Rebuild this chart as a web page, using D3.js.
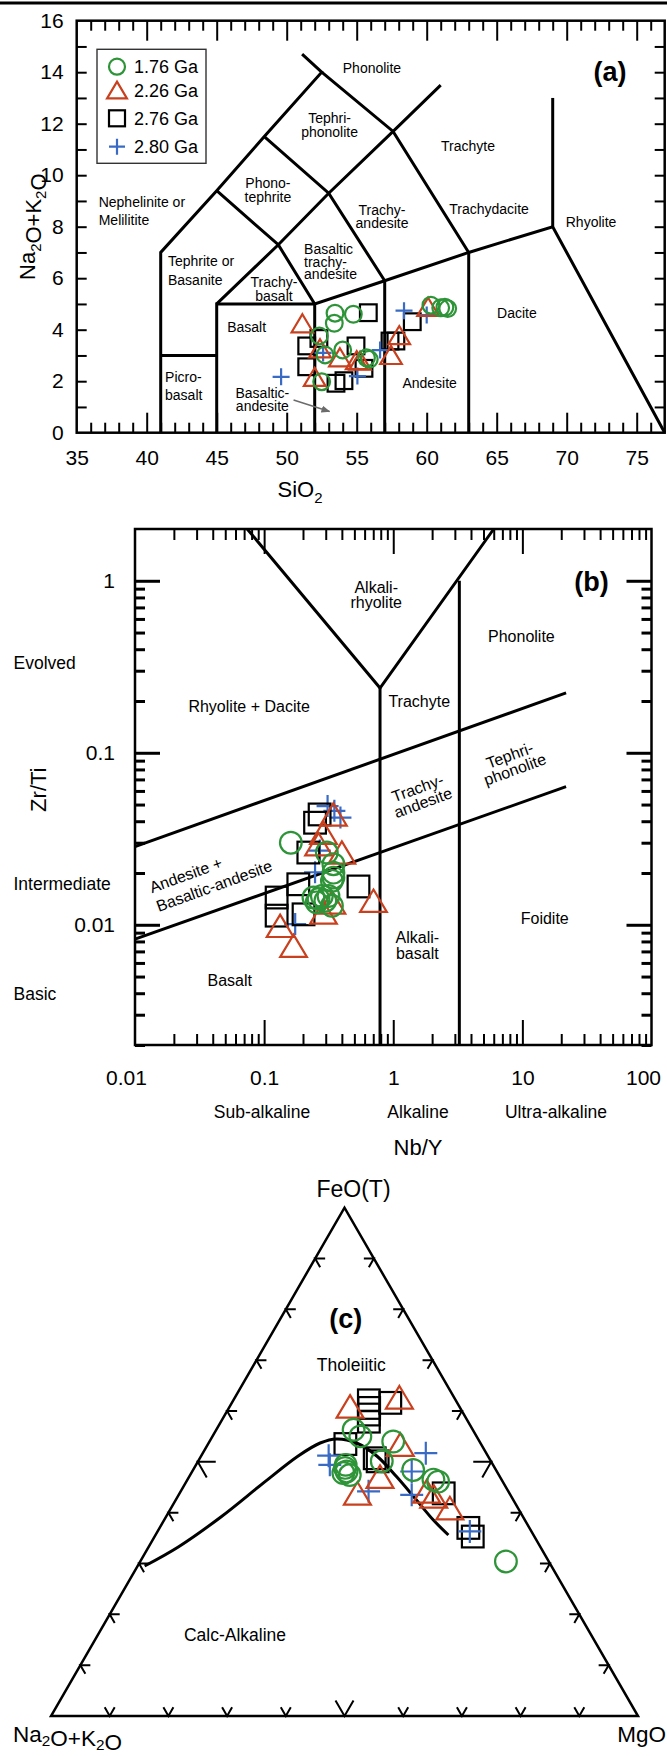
<!DOCTYPE html>
<html>
<head>
<meta charset="utf-8">
<title>TAS, Zr/Ti-Nb/Y and AFM diagrams</title>
<script src="https://cdn.jsdelivr.net/npm/d3@7"></script>
<style>
  body { margin: 0; background: #fff; }
  svg { display: block; font-family: "Liberation Sans", Arial, Helvetica, sans-serif; }
  .field { fill: none; stroke: #000; stroke-width: 3; stroke-linejoin: miter; }
  .frame { fill: none; stroke: #000; stroke-width: 2.5; }
  .mk { fill: none; stroke-width: 2.2; }
</style>
</head>
<body>
<div id="chart"></div>
<script>
/* ---- data ---- */

// (a) TAS: SiO2 vs Na2O+K2O (wt%)
var tasSiO2_176 = [53.45, 54.76, 53.4, 52.33, 52.74, 54.0, 55.7, 55.9, 52.5, 60.3, 61.0, 61.3, 61.5];
var tasAlk_176  = [4.64, 4.6, 4.25, 3.76, 3.02, 3.21, 2.91, 2.85, 1.98, 4.95, 4.85, 4.87, 4.82];
var tasSiO2_226 = [51.12, 52.38, 53.8, 55.0, 55.24, 52.0, 58.04, 57.45, 60.1];
var tasAlk_226  = [4.25, 3.28, 2.93, 2.82, 2.8, 2.17, 3.79, 3.02, 4.89];
var tasSiO2_276 = [55.83, 51.43, 51.43, 54.95, 55.52, 53.52, 54.09, 57.38, 57.8, 58.97, 52.3];
var tasAlk_276  = [4.66, 3.37, 2.56, 3.37, 2.5, 1.92, 2.02, 3.56, 3.56, 4.31, 3.66];
var tasSiO2_280 = [49.6, 52.6, 55.05, 56.67, 58.38, 60.0];
var tasAlk_280  = [2.17, 3.1, 2.2, 3.21, 4.74, 4.57];

// (b) Nb/Y vs Zr/Ti
var nbY_176  = [0.161, 0.306, 0.344, 0.344, 0.344, 0.335, 0.241, 0.264, 0.280, 0.298, 0.335, 0.315, 0.255];
var zrTi_176 = [0.0300, 0.0263, 0.0225, 0.0201, 0.0188, 0.0180, 0.0144, 0.0141, 0.0147, 0.0138, 0.0129, 0.0147, 0.0135];
var nbY_226  = [0.344, 0.288, 0.264, 0.400, 0.703, 0.288, 0.335, 0.133, 0.169];
var zrTi_226 = [0.0438, 0.0343, 0.0294, 0.0263, 0.0138, 0.0118, 0.0135, 0.00986, 0.00755];
var nbY_276  = [0.269, 0.248, 0.220, 0.184, 0.125, 0.125, 0.202, 0.538];
var zrTi_276 = [0.0438, 0.0392, 0.0263, 0.0172, 0.0144, 0.0113, 0.0115, 0.0167];
var nbY_280  = [0.31, 0.39, 0.35, 0.248, 0.174, 0.27];
var zrTi_280 = [0.049, 0.042, 0.046, 0.0202, 0.0101, 0.027];

// (c) AFM, FeO(T) and MgO in %, Na2O+K2O is the rest
var feo_176 = [56.3, 55.0, 54.0, 50.1, 48.8, 48.1, 47.4, 47.8, 49.4, 48.4, 46.5, 46.1, 30.4];
var mgo_176 = [23.4, 25.2, 31.3, 31.3, 25.7, 26.3, 27.2, 25.9, 25.5, 37.5, 41.9, 42.9, 62.3];
var feo_226 = [60.9, 62.7, 53.4, 47.1, 43.8, 44.2, 43.2, 40.9];
var mgo_226 = [20.5, 28.0, 32.8, 32.5, 30.3, 41.9, 43.6, 47.5];
var feo_276 = [62.1, 60.6, 59.3, 57.9, 61.6, 53.5, 50.7, 50.1, 43.8, 37.0, 35.3];
var mgo_276 = [23.1, 23.9, 24.5, 25.2, 27.0, 23.4, 29.8, 30.6, 45.0, 52.6, 54.2];
var feo_280 = [51.2, 49.4, 51.7, 48.1, 44.2, 43.5, 36.3];
var mgo_280 = [21.7, 22.8, 38.0, 37.4, 32.0, 39.7, 53.2];

// tholeiitic / calc-alkaline boundary (Irvine & Baragar)
var curveF = [29.5, 33.3, 39.2, 45.9, 51.1, 53.7, 54.5, 53.7, 51.1, 47.1, 42.5, 38.6, 35.6];
var curveM = [1.2, 5.1, 9.4, 13.3, 16.5, 19.0, 21.4, 25.2, 30.0, 35.3, 41.0, 45.8, 49.9];

var seriesNames = ['1.76 Ga', '2.26 Ga', '2.76 Ga', '2.80 Ga'];
var seriesShapes = ['circle', 'triangle', 'square', 'plus'];
var seriesColors = ['#2e9438', '#c8401e', '#000000', '#3a6bc4'];

// TAS field boundaries (SiO2, alkalis)
var tasFields = [
    [[41, 0], [41, 7], [45, 9.4], [48.4, 11.5], [52.5, 14], [51.1, 14.7]],
    [[45, 0], [45, 5], [52, 5], [57, 5.9], [63, 7], [69, 8], [77, 0]],
    [[41, 3], [45, 3]],
    [[52, 0], [52, 5]],
    [[57, 0], [57, 5.9]],
    [[63, 0], [63, 7]],
    [[69, 8], [69, 13]],
    [[45, 5], [49.4, 7.3], [53, 9.3], [57.6, 11.7], [61, 13.5]],
    [[45, 9.4], [49.4, 7.3], [52, 5]],
    [[48.4, 11.5], [53, 9.3], [57, 5.9]],
    [[52.5, 14], [57.6, 11.7], [63, 7]]
];

// Zr/Ti - Nb/Y field boundaries
var wfFields = [
    [[0.074, 2], [0.79, 0.238], [6.0, 2]],
    [[0.79, 0.238], [0.79, 0.002]],
    [[3.25, 1.0], [3.25, 0.002]],
    [[0.01, 0.0285], [21.8, 0.223]],
    [[0.01, 0.00825], [21.8, 0.0635]]
];

var W = 667, H = 1756;

var svg = d3.select('#chart').append('svg')
    .attr('width', W)
    .attr('height', H);

svg.append('rect').attr('width', W).attr('height', H).attr('fill', '#fff');

svg.append('line')
    .attr('x1', 0).attr('x2', W)
    .attr('y1', 3).attr('y2', 3)
    .attr('stroke', '#000').attr('stroke-width', 3);

// draws one marker centred on x,y
var drawMarker = function (g, shape, x, y, s, color) {
    var m = g.append('g')
        .attr('transform', 'translate(' + x + ',' + y + ')')
        .attr('class', 'mk')
        .attr('stroke', color);
    if (shape == 'circle') {
        m.append('circle').attr('r', s / 2);
    } else if (shape == 'square') {
        m.append('rect').attr('x', -s / 2).attr('y', -s / 2).attr('width', s).attr('height', s);
    } else if (shape == 'triangle') {
        var w = s * 1.24, h = s * 1.04;
        m.append('path').attr('d', 'M0,' + (-h / 2) + 'L' + (w / 2) + ',' + (h / 2) + 'L' + (-w / 2) + ',' + (h / 2) + 'Z');
    } else {
        m.append('path').attr('d', 'M' + (-s / 2) + ',0H' + (s / 2) + 'M0,' + (-s / 2) + 'V' + (s / 2));
    }
}

var drawSeries = function (g, xs, ys, px, py, idx, s) {
    xs.forEach(function (v, i) {
        drawMarker(g, seriesShapes[idx], px(v, ys[i]), py(v, ys[i]), s, seriesColors[idx]);
    });
}

// ticks only, pointing inward
var ticks = function (g, axis, transform, width) {
    var a = g.append('g').attr('transform', transform).call(axis);
    a.select('.domain').remove();
    a.selectAll('text').remove();
    a.selectAll('line').attr('stroke', '#000').attr('stroke-width', width || 2);
}

var labels = function (g, axis, transform, size) {
    var a = g.append('g').attr('transform', transform).call(axis);
    a.select('.domain').remove();
    a.attr('font-family', null).attr('font-size', size);
    a.selectAll('text').attr('fill', '#000');
    return a;
}

// multi-line text label, one text per line
var note = function (g, lines, x, y, size, lh, anchor, rot) {
    var t = g.append('g')
        .attr('transform', 'translate(' + x + ',' + y + ')' + (rot ? ' rotate(' + rot + ')' : ''))
        .attr('font-size', size)
        .attr('text-anchor', anchor || 'middle');
    lines.forEach(function (l, i) {
        t.append('text').attr('x', 0).attr('y', i * lh).text(l);
    });
    return t;
}

var subText = function (t, parts, size, shift) {
    parts.forEach(function (p) {
        if (p.sub) {
            t.append('tspan').attr('font-size', size * 0.68).attr('dy', size * shift).text(p.sub);
            t.append('tspan').attr('dy', -size * shift).text('');
        } else {
            t.append('tspan').text(p.t);
        }
    });
}

/* ================= (a) TAS ================= */
var xA = d3.scaleLinear().domain([35, 77]).range([76.7, 664.7]);
var yA = d3.scaleLinear().domain([0, 16]).range([432.7, 20.7]);
var gA = svg.append('g');

var lineA = d3.line().x(function (d) { return xA(d[0]); }).y(function (d) { return yA(d[1]); });
tasFields.forEach(function (p) {
    gA.append('path').attr('d', lineA(p)).attr('class', 'field');
});

gA.append('rect')
    .attr('x', xA(35)).attr('y', yA(16))
    .attr('width', xA(77) - xA(35)).attr('height', yA(0) - yA(16))
    .attr('class', 'frame');

var minorA = d3.range(36, 77).filter(function (v) { return v % 5 != 0; });
var majorA = d3.range(40, 76, 5);
ticks(gA, d3.axisBottom(xA).tickValues(minorA).tickSize(-10), 'translate(0,' + yA(0) + ')');
ticks(gA, d3.axisBottom(xA).tickValues(majorA).tickSize(-20), 'translate(0,' + yA(0) + ')');
ticks(gA, d3.axisTop(xA).tickValues(minorA).tickSize(-10), 'translate(0,' + yA(16) + ')');
ticks(gA, d3.axisTop(xA).tickValues(majorA).tickSize(-20), 'translate(0,' + yA(16) + ')');
ticks(gA, d3.axisLeft(yA).tickValues(d3.range(1, 16)).tickSize(-10), 'translate(' + xA(35) + ',0)');
ticks(gA, d3.axisRight(yA).tickValues(d3.range(1, 16)).tickSize(-10), 'translate(' + xA(77) + ',0)');

labels(gA, d3.axisBottom(xA).tickValues(d3.range(35, 80, 5)).tickSize(0).tickPadding(17), 'translate(0,' + yA(0) + ')', 21);
labels(gA, d3.axisLeft(yA).tickValues(d3.range(0, 17, 2)).tickSize(0).tickPadding(13), 'translate(' + xA(35) + ',0)', 21);

// field names
var tasNames = [
    { t: ['Phonolite'], x: 56.09, y: 14.15 },
    { t: ['Tephri-', 'phonolite'], x: 53.06, y: 11.95, lh: 13.4 },
    { t: ['Trachyte'], x: 62.95, y: 11.15 },
    { t: ['Phono-', 'tephrite'], x: 48.66, y: 9.43, lh: 13.4 },
    { t: ['Nephelinite or', 'Melilitite'], x: 36.57, y: 8.61, lh: 18.3, a: 'start' },
    { t: ['Trachy-', 'andesite'], x: 56.81, y: 8.39, lh: 13.3 },
    { t: ['Trachydacite'], x: 64.45, y: 8.68 },
    { t: ['Rhyolite'], x: 71.74, y: 8.19 },
    { t: ['Basaltic', 'trachy-', 'andesite'], x: 51.24, y: 6.64, lh: 12.6, a: 'start' },
    { t: ['Tephrite or', 'Basanite'], x: 41.52, y: 6.28, lh: 19, a: 'start' },
    { t: ['Trachy-', 'basalt'], x: 49.09, y: 5.58, lh: 14.3 },
    { t: ['Basalt'], x: 47.14, y: 4.12 },
    { t: ['Dacite'], x: 66.44, y: 4.66 },
    { t: ['Picro-', 'basalt'], x: 41.31, y: 1.81, lh: 18.3, a: 'start' },
    { t: ['Andesite'], x: 60.21, y: 1.94 },
    { t: ['Basaltic-', 'andesite'], x: 48.26, y: 1.29, lh: 12.8 }
];
tasNames.forEach(function (n) {
    var lh = n.lh || 0;
    var y0 = yA(n.y) + 5 - lh * (n.t.length - 1) / 2;
    note(gA, n.t, xA(n.x), y0, 14, lh, n.a);
});

// arrow to the basaltic-andesite field
svg.append('defs').append('marker')
    .attr('id', 'arr').attr('viewBox', '0 0 10 10')
    .attr('refX', 9).attr('refY', 5)
    .attr('markerWidth', 6).attr('markerHeight', 6)
    .attr('orient', 'auto')
    .append('path').attr('d', 'M0,1L10,5L0,9Z').attr('fill', '#6b6b6b');
gA.append('path')
    .attr('d', lineA([[50.49, 1.27], [53.06, 0.82]]))
    .attr('stroke', '#6b6b6b').attr('stroke-width', 1.5).attr('fill', 'none')
    .attr('marker-end', 'url(#arr)');

note(gA, ['(a)'], xA(73.09), yA(14.02) + 9, 27, 0).attr('font-weight', 'bold');

var tA = gA.append('text')
    .attr('transform', 'translate(35,' + yA(8) + ') rotate(-90)')
    .attr('text-anchor', 'middle').attr('font-size', 22);
subText(tA, [{ t: 'Na' }, { sub: '2' }, { t: 'O+K' }, { sub: '2' }, { t: 'O' }], 22, 0.25);

var tS1 = gA.append('text')
    .attr('x', 300).attr('y', 497)
    .attr('text-anchor', 'middle').attr('font-size', 22);
subText(tS1, [{ t: 'SiO' }, { sub: '2' }], 22, 0.25);

var pxA = function (a) { return xA(a); };
var pyA = function (a, b) { return yA(b); };
var gPtsA = gA.append('g');
drawSeries(gPtsA, tasSiO2_276, tasAlk_276, pxA, pyA, 2, 16.7);
drawSeries(gPtsA, tasSiO2_280, tasAlk_280, pxA, pyA, 3, 17);
drawSeries(gPtsA, tasSiO2_226, tasAlk_226, pxA, pyA, 1, 17.4);
drawSeries(gPtsA, tasSiO2_176, tasAlk_176, pxA, pyA, 0, 16.7);

// legend
var lg = gA.append('g');
lg.append('rect')
    .attr('x', 97).attr('y', 49.3).attr('width', 109).attr('height', 114)
    .attr('fill', '#fff').attr('stroke', '#333').attr('stroke-width', 1.4);
var legendY = [66.7, 90, 118.3, 146.7];
seriesNames.forEach(function (n, i) {
    drawMarker(lg, seriesShapes[i], 117, legendY[i], 16, seriesColors[i]);
    lg.append('text').attr('x', 134).attr('y', legendY[i] + 6.5)
        .attr('font-size', 18).text(n);
});

/* ================= (b) Zr/Ti vs Nb/Y ================= */
var xB = d3.scaleLog().domain([0.01, 100]).range([135, 651.5]);
var yB = d3.scaleLog().domain([0.002, 2]).range([1045, 529]);
var gB = svg.append('g');

var lineB = d3.line().x(function (d) { return xB(d[0]); }).y(function (d) { return yB(d[1]); });
wfFields.forEach(function (p) {
    gB.append('path').attr('d', lineB(p)).attr('class', 'field');
});

gB.append('rect')
    .attr('x', xB(0.01)).attr('y', yB(2))
    .attr('width', xB(100) - xB(0.01)).attr('height', yB(0.002) - yB(2))
    .attr('class', 'frame').attr('stroke-width', 3);

var decadeTicks = function (lo, hi, first) {
    var out = [];
    for (var e = lo; e <= hi; e++) {
        for (var k = first; k <= 9; k++) out.push(+(k * Math.pow(10, e)).toPrecision(3));
    }
    return out;
}
var minorBx = decadeTicks(-2, 1, 2);
var majorBx = [0.1, 1, 10];
var minorBy = decadeTicks(-3, 0, 2).filter(function (v) { return v >= 0.002 && v < 2; });
var majorBy = [0.01, 0.1, 1];
ticks(gB, d3.axisBottom(xB).tickValues(minorBx).tickSize(-11), 'translate(0,' + yB(0.002) + ')');
ticks(gB, d3.axisBottom(xB).tickValues(majorBx).tickSize(-25), 'translate(0,' + yB(0.002) + ')');
ticks(gB, d3.axisTop(xB).tickValues(minorBx).tickSize(-11), 'translate(0,' + yB(2) + ')');
ticks(gB, d3.axisTop(xB).tickValues(majorBx).tickSize(-25), 'translate(0,' + yB(2) + ')');
ticks(gB, d3.axisLeft(yB).tickValues(minorBy).tickSize(-10), 'translate(' + xB(0.01) + ',0)', 3);
ticks(gB, d3.axisLeft(yB).tickValues(majorBy).tickSize(-25), 'translate(' + xB(0.01) + ',0)', 3);
ticks(gB, d3.axisRight(yB).tickValues(minorBy).tickSize(-10), 'translate(' + xB(100) + ',0)', 3);
ticks(gB, d3.axisRight(yB).tickValues(majorBy).tickSize(-25), 'translate(' + xB(100) + ',0)', 3);

var fmt = function (d) { return String(d); };
var xLabB = labels(gB, d3.axisBottom(xB).tickValues([0.01, 0.1, 1, 10, 100]).tickFormat(fmt).tickSize(0).tickPadding(25), 'translate(0,' + yB(0.002) + ')', 21);
// end labels are pulled inside the page as in the original
xLabB.selectAll('text').filter(function (d) { return d == 0.01; }).attr('dx', -9);
xLabB.selectAll('text').filter(function (d) { return d == 100; }).attr('text-anchor', 'end').attr('dx', 9);
labels(gB, d3.axisLeft(yB).tickValues(majorBy).tickFormat(fmt).tickSize(0).tickPadding(20), 'translate(' + xB(0.01) + ',0)', 21);

var wfNames = [
    { t: ['Alkali-', 'rhyolite'], x: 0.738, y: 0.824, lh: 15.5 },
    { t: ['Phonolite'], x: 9.83, y: 0.475 },
    { t: ['Rhyolite + Dacite'], x: 0.0765, y: 0.186 },
    { t: ['Trachyte'], x: 1.59, y: 0.199 },
    { t: ['Foidite'], x: 14.9, y: 0.01088 },
    { t: ['Alkali-', 'basalt'], x: 1.535, y: 0.00758, lh: 16 },
    { t: ['Basalt'], x: 0.0542, y: 0.00473 },
    { t: ['Tephri-', 'phonolite'], x: 8.36, y: 0.0879, lh: 15, r: -20 },
    { t: ['Trachy-', 'andesite'], x: 1.62, y: 0.0565, lh: 15.5, r: -20 }
];
wfNames.forEach(function (n) {
    var lh = n.lh || 0;
    var y0 = yB(n.y) + 5.5 - lh * (n.t.length - 1) / 2;
    if (n.r) {
        var g = gB.append('g').attr('transform', 'translate(' + xB(n.x) + ',' + yB(n.y) + ') rotate(' + n.r + ')');
        note(g, n.t, 0, 5.5 - lh * (n.t.length - 1) / 2, 16, lh);
    } else {
        note(gB, n.t, xB(n.x), y0, 16, lh);
    }
});
note(gB, ['Andesite +', 'Basaltic-andesite'], xB(0.01354), yB(0.01526), 16, 20, 'start', -20);

note(gB, ['Evolved'], 13.5, yB(0.334) + 6, 17.5, 0, 'start');
note(gB, ['Intermediate'], 13.5, yB(0.0172) + 6, 17.5, 0, 'start');
note(gB, ['Basic'], 13.5, yB(0.00396) + 6, 17.5, 0, 'start');

note(gB, ['(b)'], xB(34.3), yB(0.99) + 9, 27, 0).attr('font-weight', 'bold');

note(gB, ['Zr/Ti'], 0, 0, 22, 0).attr('transform', 'translate(46,' + yB(0.061) + ') rotate(-90)');
note(gB, ['Sub-alkaline'], 262, 1118, 17.5, 0);
note(gB, ['Alkaline'], 418, 1118, 17.5, 0);
note(gB, ['Ultra-alkaline'], 556, 1118, 17.5, 0);
note(gB, ['Nb/Y'], 418, 1155, 22, 0);

var pxB = function (a) { return xB(a); };
var pyB = function (a, b) { return yB(b); };
var gPtsB = gB.append('g');
drawSeries(gPtsB, nbY_280, zrTi_280, pxB, pyB, 3, 22);
drawSeries(gPtsB, nbY_276, zrTi_276, pxB, pyB, 2, 21.7);
drawSeries(gPtsB, nbY_226, zrTi_226, pxB, pyB, 1, 21.5);
drawSeries(gPtsB, nbY_176, zrTi_176, pxB, pyB, 0, 21.7);

/* ================= (c) AFM ternary ================= */
var S3 = Math.sqrt(3) / 2;
var tx0 = 51, ty0 = 1716;
var tS = d3.scaleLinear().domain([0, 100]).range([0, 587]);
var ternX = function (F, M) { return tx0 + tS(M + F / 2); };
var ternY = function (F) { return ty0 - tS(F) * S3; };
var gC = svg.append('g');

gC.append('path')
    .attr('d', d3.line()([[ternX(0, 0), ternY(0)], [ternX(100, 0), ternY(100)], [ternX(0, 100), ternY(0)]]) + 'Z')
    .attr('fill', 'none').attr('stroke', '#000').attr('stroke-width', 2.5).attr('stroke-linejoin', 'miter');

// chevron ticks every 10 %
d3.range(10, 100, 10).forEach(function (t) {
    var L = t == 50 ? 18 : 10;
    var c = 0.5, s = S3;
    var segs = [
        [ternX(0, t), ternY(0), [[-L * c, -L * s], [L * c, -L * s]]],
        [ternX(t, 0), ternY(t), [[L, 0], [L * c, L * s]]],
        [ternX(t, 100 - t), ternY(t), [[-L, 0], [-L * c, L * s]]]
    ];
    segs.forEach(function (sg) {
        var x = sg[0], y = sg[1], a = sg[2];
        gC.append('path')
            .attr('d', 'M' + (x + a[0][0]) + ',' + (y + a[0][1]) + 'L' + x + ',' + y + 'L' + (x + a[1][0]) + ',' + (y + a[1][1]))
            .attr('fill', 'none').attr('stroke', '#000').attr('stroke-width', 2);
    });
});

gC.append('path')
    .datum(curveF.map(function (f, i) { return [f, curveM[i]]; }))
    .attr('d', d3.line()
        .curve(d3.curveCatmullRom)
        .x(function (d) { return ternX(d[0], d[1]); })
        .y(function (d) { return ternY(d[0]); }))
    .attr('fill', 'none').attr('stroke', '#000').attr('stroke-width', 3);

note(gC, ['FeO(T)'], ternX(100, 0) + 9, ternY(100) - 11, 23, 0);
var tNa = gC.append('text').attr('x', 13).attr('y', 1742).attr('font-size', 22.5);
subText(tNa, [{ t: 'Na' }, { sub: '2' }, { t: 'O+K' }, { sub: '2' }, { t: 'O' }], 22.5, 0.17);
note(gC, ['MgO'], 666, 1742, 22.5, 0, 'end');
note(gC, ['(c)'], ternX(78, 11.2), ternY(78) + 9, 27, 0).attr('font-weight', 'bold');
note(gC, ['Tholeiitic'], ternX(69.1, 16.6), ternY(69.1) + 6, 17.5, 0);
note(gC, ['Calc-Alkaline'], ternX(15.9, 23.4), ternY(15.9) + 6, 17.5, 0);

var pxC = function (f, m) { return ternX(f, m); };
var pyC = function (f) { return ternY(f); };
var gPtsC = gC.append('g');
drawSeries(gPtsC, feo_276, mgo_276, pxC, pyC, 2, 21.7);
drawSeries(gPtsC, feo_280, mgo_280, pxC, pyC, 3, 23);
drawSeries(gPtsC, feo_226, mgo_226, pxC, pyC, 1, 21.7);
drawSeries(gPtsC, feo_176, mgo_176, pxC, pyC, 0, 21.7);
</script>
</body>
</html>
